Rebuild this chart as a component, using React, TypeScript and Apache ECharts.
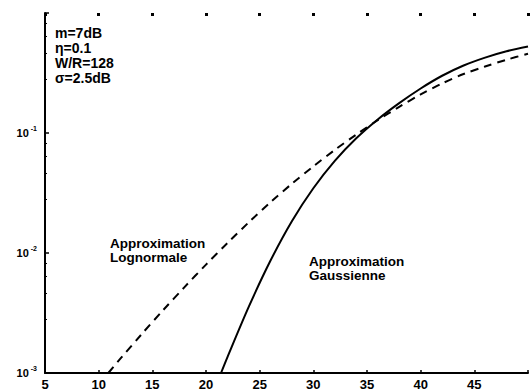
import React, { useEffect, useRef } from "react";
import * as echarts from "echarts";

// Eb/N0 in dB (x) and probability (y, log scale)
const gaussX = [21.4, 22, 24, 26, 28, 30, 32, 34, 36, 38, 40, 42, 44, 46, 48, 50];
const gaussY = [0.001, 0.001358, 0.003589, 0.00861, 0.01841, 0.03467, 0.05861, 0.09036, 0.1297, 0.1774, 0.235, 0.3, 0.365, 0.425, 0.48, 0.526];

const lognormX = [10.9, 12, 14, 16, 18, 20, 22, 24, 26, 28, 30, 32, 34, 36, 38, 40, 42, 44, 46, 48, 50];
const lognormY = [0.001, 0.001309, 0.002104, 0.003334, 0.0052, 0.008, 0.01211, 0.01807, 0.02642, 0.03776, 0.05272, 0.07228, 0.09705, 0.1279, 0.1652, 0.2094, 0.2588, 0.31, 0.358, 0.408, 0.458];

const xTicks = [5, 10, 15, 20, 25, 30, 35, 40, 45];
const paramLines = ["m=7dB", "η=0.1", "W/R=128", "σ=2.5dB"];
const lognormLabel = ["Approximation", "Lognormale"];
const gaussLabel = ["Approximation", "Gaussienne"];

const FONT = "'Liberation Sans', Arial, sans-serif";

const zip = (xs: number[], ys: number[]) => xs.map((x, i) => [x, ys[i]]);

// one text element per line, stacked with a fixed step
const textLines = (lines: string[], left: number, top: number, size: number, step: number) =>
  lines.map((t, i) => ({
    type: "text",
    left,
    top: top + i * step,
    style: { text: t, font: `bold ${size}px ${FONT}`, fill: "#000" },
  }));

export default function App() {
  const ref = useRef<HTMLDivElement>(null);

  useEffect(() => {
    if (!ref.current) return;
    const chart = echarts.init(ref.current, null, { renderer: "svg" });
    const black = "#000";
    chart.setOption({
      animation: false,
      backgroundColor: "#fff",
      grid: { left: 45, top: 13, right: -9, bottom: 13 },
      xAxis: [
        {
          type: "value",
          min: 5,
          max: 50,
          interval: 5,
          axisLine: { lineStyle: { color: black, width: 2 } },
          axisTick: { inside: true, length: 3, lineStyle: { color: black, width: 1.5 } },
          splitLine: { show: false },
          axisLabel: {
            margin: 5,
            color: black,
            fontFamily: FONT,
            fontWeight: "bold",
            fontSize: 13,
            formatter: (v: number) => (xTicks.includes(v) ? String(v) : ""),
          },
        },
        {
          type: "value",
          position: "top",
          min: 5,
          max: 50,
          interval: 5,
          axisLine: { show: false },
          axisTick: { inside: true, length: 3, lineStyle: { color: black, width: 3 } },
          splitLine: { show: false },
          axisLabel: { show: false },
        },
      ],
      yAxis: {
        type: "log",
        logBase: 10,
        min: 0.001,
        max: 1,
        axisLine: { lineStyle: { color: black, width: 2 } },
        axisTick: { inside: true, length: 4, lineStyle: { color: black, width: 1.5 } },
        minorTick: { show: true, splitNumber: 5, length: 2, lineStyle: { color: black, width: 1 } },
        splitLine: { show: false },
        axisLabel: {
          margin: 8,
          color: black,
          formatter: (v: number) => {
            const e = Math.round(Math.log10(v));
            if (e === 0) return "";
            return `{b|10}{s|${e}}`;
          },
          rich: {
            b: { fontFamily: FONT, fontWeight: "bold", fontSize: 11, color: black },
            s: { fontFamily: FONT, fontWeight: "bold", fontSize: 7, color: black, padding: [0, 0, 9, 2] },
          },
        },
      },
      series: [
        {
          name: "Approximation Gaussienne",
          type: "line",
          data: zip(gaussX, gaussY),
          showSymbol: false,
          smooth: 0.3,
          lineStyle: { color: black, width: 2 },
        },
        {
          name: "Approximation Lognormale",
          type: "line",
          data: zip(lognormX, lognormY),
          showSymbol: false,
          smooth: 0.3,
          lineStyle: { color: black, width: 2, type: [8, 6] },
        },
      ],
      graphic: [
        ...textLines(paramLines, 55, 26, 14, 15),
        ...textLines(lognormLabel, 110, 236, 13.5, 14),
        ...textLines(gaussLabel, 309, 254, 13.5, 14),
      ],
    });
    return () => chart.dispose();
  }, []);

  return (
    <div
      ref={ref}
      style={{ position: "fixed", left: 0, top: 0, width: 531, height: 391, background: "#fff" }}
    />
  );
}
